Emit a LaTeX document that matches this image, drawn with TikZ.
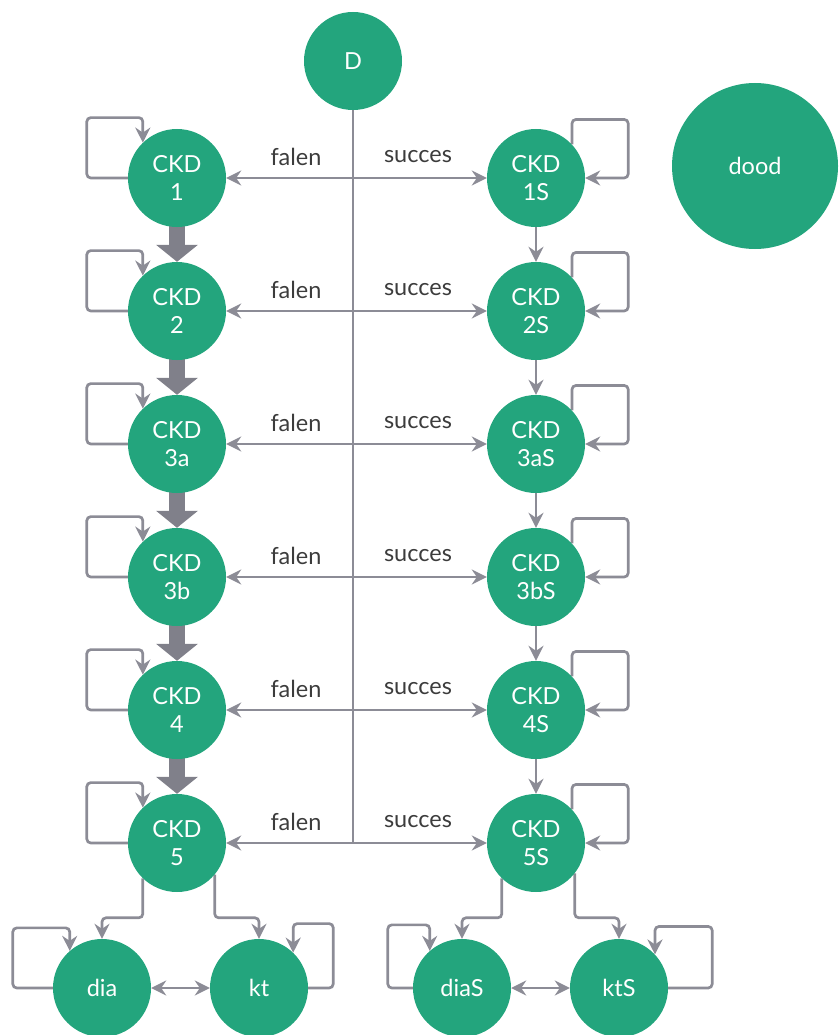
\documentclass[tikz,border=0pt]{standalone}
\usepackage{fontspec}
\setmainfont{Lato}
\usetikzlibrary{arrows.meta,calc,backgrounds}
\definecolor{ckdgreen}{RGB}{35,165,125}
\definecolor{lngray}{RGB}{140,140,150}
\definecolor{thickgray}{RGB}{128,128,138}
\definecolor{lbltext}{RGB}{60,60,60}
\begin{document}
\begin{tikzpicture}[x=1pt,y=-1pt,
  state/.style={circle,fill=ckdgreen,text=white,minimum size=98pt,inner sep=0pt,align=center,font=\fontsize{23.5}{28}\selectfont},
  ln/.style={draw=lngray,line width=2.7pt,rounded corners=4pt},
  tip/.style={-{Stealth[length=15pt,width=15pt,inset=5pt]}},
  dtip/.style={{Stealth[length=15pt,width=15pt,inset=5pt]}-{Stealth[length=15pt,width=15pt,inset=5pt]}},
  lbl/.style={text=lbltext,font=\fontsize{23.5}{26}\selectfont,inner sep=0pt},
  thickarrow/.style={draw=thickgray,line width=16pt,-{Triangle[length=17pt,width=41pt]}}
]
\useasboundingbox (0,0) rectangle (838,1035);
\node[state] (D) at (353,61) {D};
\node[state,minimum size=166pt] (dood) at (755,166) {dood};
\foreach \i/\a/\b in {1/1/1S,2/2/2S,3/3a/3aS,4/3b/3bS,5/4/4S,6/5/5S} {
  \node[state] (L\i) at (177,{178+133*(\i-1)}) {CKD\\\a};
  \node[state] (R\i) at (536,{178+133*(\i-1)}) {CKD\\\b};
  \node[lbl] (fa\i) at (296,{157+133*(\i-1)}) {falen};
  \node[lbl] (su\i) at (418,{157+133*(\i-1)}) {succes};
}
\node[state] (dia) at (102,988) {dia};
\node[state] (kt) at (259,988) {kt};
\node[state] (diaS) at (462,988) {diaS};
\node[state] (ktS) at (619,988) {ktS};
\begin{scope}[on background layer]
  \draw[ln] (D.south) -- (D.south |- L6.east);
  \foreach \i in {1,...,6} {
    \draw[ln,dtip] (L\i.east) -- (R\i.west);
    \draw[ln,tip] (L\i.west) -- ++(-41,0) |- ($(L\i.134)+(0,-25)$) -- (L\i.134);
    \draw[ln,tip] (R\i.43) -- ++(0,-25) -| ($(R\i.east)+(43,0)$) -- (R\i.east);
  }
  \foreach \i/\j in {1/2,2/3,3/4,4/5,5/6} {
    \draw[thickarrow] ($(L\i.south)+(0,-4)$) -- (L\j.north);
    \draw[ln,tip] (R\i.south) -- (R\j.north);
  }
  \draw[ln,tip] (L6.-134) |- ($(dia.north)+(0,-21)$) -- (dia.north);
  \draw[ln,tip] (L6.-40) |- ($(kt.north)+(0,-21)$) -- (kt.north);
  \draw[ln,tip] (R6.-134) |- ($(diaS.north)+(0,-21)$) -- (diaS.north);
  \draw[ln,tip] (R6.-38) |- ($(ktS.north)+(0,-21)$) -- (ktS.north);
  \draw[ln,tip] (dia.west) -- ++(-40,0) |- ($(dia.131)+(0,-23)$) -- (dia.131);
  \draw[ln,tip] (kt.east) -- ++(25,0) |- ($(kt.46)+(0,-29)$) -- (kt.46);
  \draw[ln,tip] (diaS.west) -- ++(-25,0) |- ($(diaS.131)+(0,-26)$) -- (diaS.131);
  \draw[ln,tip] (ktS.east) -- ++(44,0) |- ($(ktS.43)+(0,-28)$) -- (ktS.43);
  \draw[ln,dtip] (dia.east) -- (kt.west);
  \draw[ln,dtip] (diaS.east) -- (ktS.west);
\end{scope}
\end{tikzpicture}
\end{document}
